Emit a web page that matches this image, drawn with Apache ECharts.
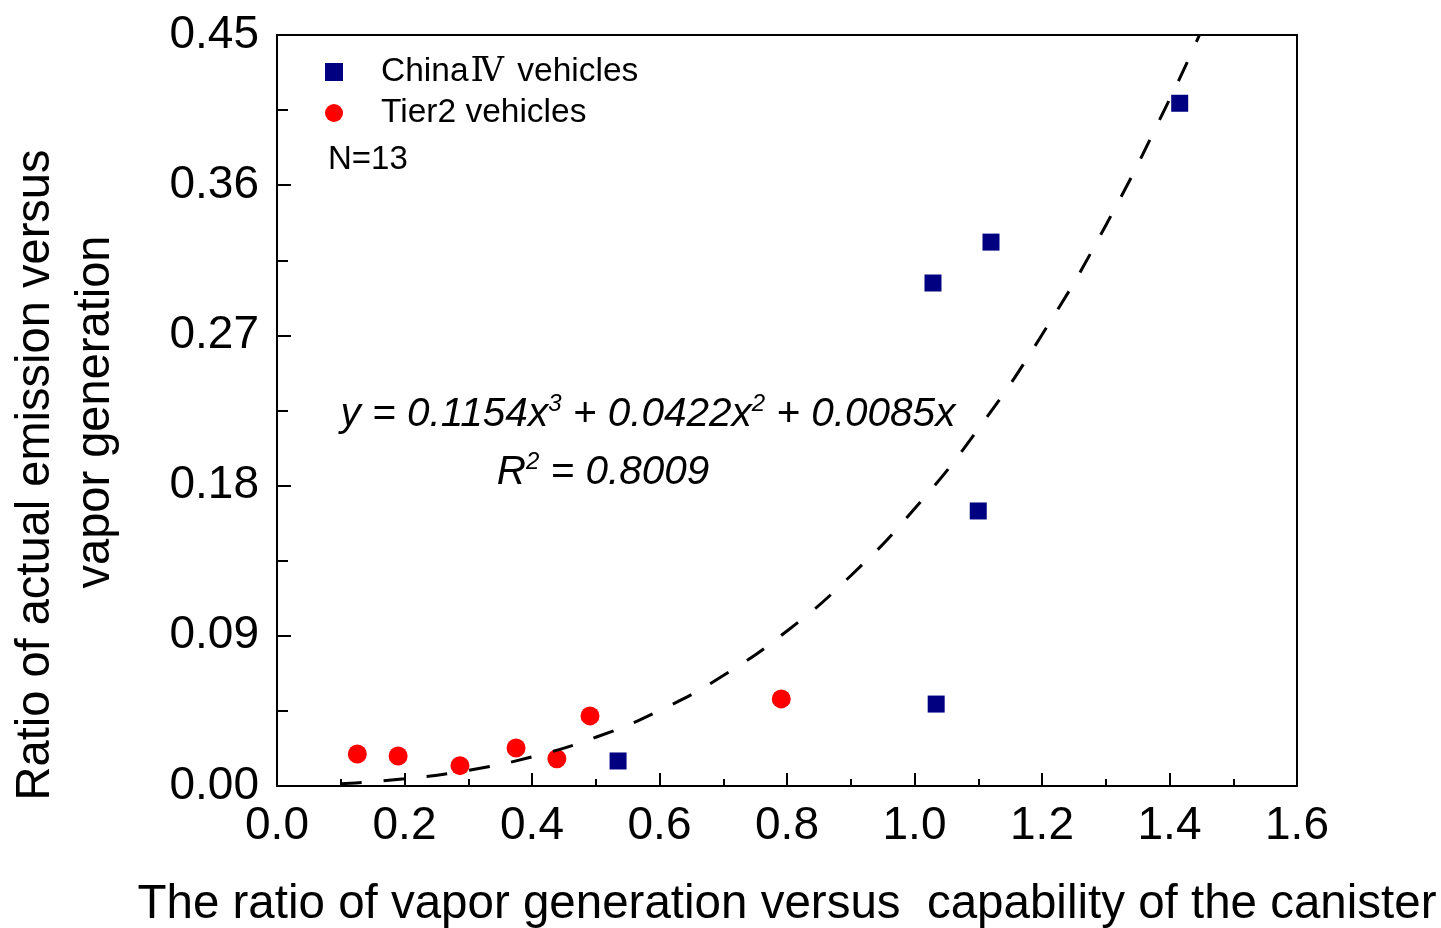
<!DOCTYPE html>
<html>
<head>
<meta charset="utf-8">
<script src="https://cdn.jsdelivr.net/npm/echarts@6/dist/echarts.min.js"></script>
<style>
html,body{margin:0;padding:0;background:#fff;}
#main{width:1441px;height:928px;}
</style>
</head>
<body>
<div id="main"></div>
<script>
// ---- data ----
const chinaIV_x = [0.535, 1.029, 1.120, 1.100, 1.034, 1.416];
const chinaIV_y = [0.0150, 0.3014, 0.3259, 0.1648, 0.0491, 0.4091];
const tier2_x = [0.126, 0.190, 0.287, 0.375, 0.439, 0.491, 0.791];
const tier2_y = [0.0192, 0.0180, 0.0122, 0.0228, 0.0163, 0.0420, 0.0522];
// dashed fit curve
const fit_x = [0.10, 0.20, 0.30, 0.40, 0.50, 0.60, 0.70, 0.80, 0.90, 1.00, 1.10, 1.20, 1.30, 1.40, 1.447];
const fit_y = [0.0014, 0.0043, 0.0094, 0.0175, 0.0292, 0.0452, 0.0662, 0.0929, 0.1260, 0.1661, 0.2140, 0.2704, 0.3359, 0.4113, 0.4500];
const xTicks = {min: 0, max: 1.6, interval: 0.2};
const yTicks = {min: 0, max: 0.45, interval: 0.09};
const seriesNames = ['China\u2163 vehicles', 'Tier2 vehicles'];
const yTitle = ['Ratio of actual emission versus', 'vapor generation'];
const xTitle = 'The ratio of vapor generation versus  capability of the canister';
const nLabel = 'N=13';
const eqLine1 = ['y = 0.1154x', '3', ' + 0.0422x', '2', ' + 0.0085x'];
const eqLine2 = ['R', '2', ' = 0.8009'];

const FF = '"Liberation Sans", Arial, sans-serif';
const zip = (a, b) => a.map((v, i) => [v, b[i]]);

const chart = echarts.init(document.getElementById('main'), null, {renderer: 'canvas'});
chart.setOption({
  backgroundColor: '#fff',
  animation: false,
  textStyle: {fontFamily: FF, color: '#000'},
  grid: {left: 277, right: 144, top: 35, bottom: 142, containLabel: false, outerBoundsMode: 'none',
         show: true, borderColor: '#000', borderWidth: 2, backgroundColor: 'transparent'},
  legend: {
    data: [
      {name: seriesNames[0], icon: 'path://M0,0L10,0L10,10L0,10Z'},
      {name: seriesNames[1], icon: 'circle'}
    ],
    orient: 'vertical',
    left: 320, top: 50,
    itemWidth: 84, itemHeight: 18, itemGap: 7,
    symbolKeepAspect: true,
    selectedMode: false,
    formatter: name => name.replace('\u2163', '{r|\u2163}'),
    textStyle: {
      fontSize: 33.5, fontFamily: FF, color: '#000', lineHeight: 34,
      rich: {r: {fontSize: 33.5, fontFamily: '"DejaVu Serif", "Liberation Serif", serif', color: '#000', lineHeight: 34, padding: [0, 4, 0, 2]}}
    }
  },
  xAxis: {
    type: 'value', min: xTicks.min, max: xTicks.max, interval: xTicks.interval,
    name: xTitle, nameLocation: 'middle', nameGap: 95,
    nameTextStyle: {fontSize: 47.5, fontFamily: FF, color: '#000'},
    axisLine: {show: true, lineStyle: {color: '#000', width: 2}},
    axisTick: {show: true, inside: true, length: 13, lineStyle: {color: '#000', width: 2}},
    minorTick: {show: true, splitNumber: 2, length: 7, lineStyle: {color: '#000', width: 2}},
    splitLine: {show: false},
    axisLabel: {fontSize: 46, color: '#000', fontFamily: FF, margin: 17, formatter: v => v.toFixed(1)}
  },
  yAxis: {
    type: 'value', min: yTicks.min, max: yTicks.max, interval: yTicks.interval,
    axisLine: {show: true, lineStyle: {color: '#000', width: 2}},
    axisTick: {show: true, inside: true, length: 14, lineStyle: {color: '#000', width: 2}},
    minorTick: {show: true, splitNumber: 2, length: 11, lineStyle: {color: '#000', width: 2}},
    splitLine: {show: false},
    axisLabel: {fontSize: 46, color: '#000', fontFamily: FF, margin: 18, formatter: v => v.toFixed(2)}
  },
  series: [
    {
      name: seriesNames[0], type: 'scatter', symbol: 'rect', symbolSize: 17,
      itemStyle: {color: '#000080', opacity: 1}, data: zip(chinaIV_x, chinaIV_y), z: 3
    },
    {
      name: seriesNames[1], type: 'scatter', symbol: 'circle', symbolSize: 19,
      itemStyle: {color: '#ff0000', opacity: 1}, data: zip(tier2_x, tier2_y), z: 3
    },
    {
      name: 'fit', type: 'line', showSymbol: false, smooth: true, z: 4,
      lineStyle: {color: '#000', width: 3, type: [21, 22]},
      data: zip(fit_x, fit_y), silent: true
    }
  ],
  graphic: [
    {type: 'text', x: 35, y: 475, rotation: Math.PI / 2, scaleX: 0.96,
     style: {text: yTitle[0], fontSize: 49, fontFamily: FF, fill: '#000', align: 'center', verticalAlign: 'middle', textAlign: 'center', textVerticalAlign: 'middle'}},
    {type: 'text', x: 95, y: 412, rotation: Math.PI / 2, scaleX: 0.96,
     style: {text: yTitle[1], fontSize: 49, fontFamily: FF, fill: '#000', align: 'center', verticalAlign: 'middle', textAlign: 'center', textVerticalAlign: 'middle'}},
    {type: 'text', x: 328, y: 160,
     style: {text: nLabel, fontSize: 33, fontFamily: FF, fill: '#000', align: 'left', verticalAlign: 'middle', textAlign: 'left', textVerticalAlign: 'middle'}},
    {type: 'text', x: 648, y: 415,
     style: {
       text: '{m|' + eqLine1[0] + '}{s|' + eqLine1[1] + '}{m|' + eqLine1[2] + '}{s|' + eqLine1[3] + '}{m|' + eqLine1[4] + '}',
       align: 'center', verticalAlign: 'middle', textAlign: 'center', textVerticalAlign: 'middle', fill: '#000',
       rich: {
         m: {fontSize: 40.5, fontStyle: 'italic', fontFamily: FF, fill: '#000', lineHeight: 46},
         s: {fontSize: 24, fontStyle: 'italic', fontFamily: FF, fill: '#000', lineHeight: 22, verticalAlign: 'top'}
       }
     }},
    {type: 'text', x: 603, y: 473,
     style: {
       text: '{m|' + eqLine2[0] + '}{s|' + eqLine2[1] + '}{m|' + eqLine2[2] + '}',
       align: 'center', verticalAlign: 'middle', textAlign: 'center', textVerticalAlign: 'middle', fill: '#000',
       rich: {
         m: {fontSize: 40.5, fontStyle: 'italic', fontFamily: FF, fill: '#000', lineHeight: 46},
         s: {fontSize: 24, fontStyle: 'italic', fontFamily: FF, fill: '#000', lineHeight: 22, verticalAlign: 'top'}
       }
     }}
  ]
});
</script>
</body>
</html>
